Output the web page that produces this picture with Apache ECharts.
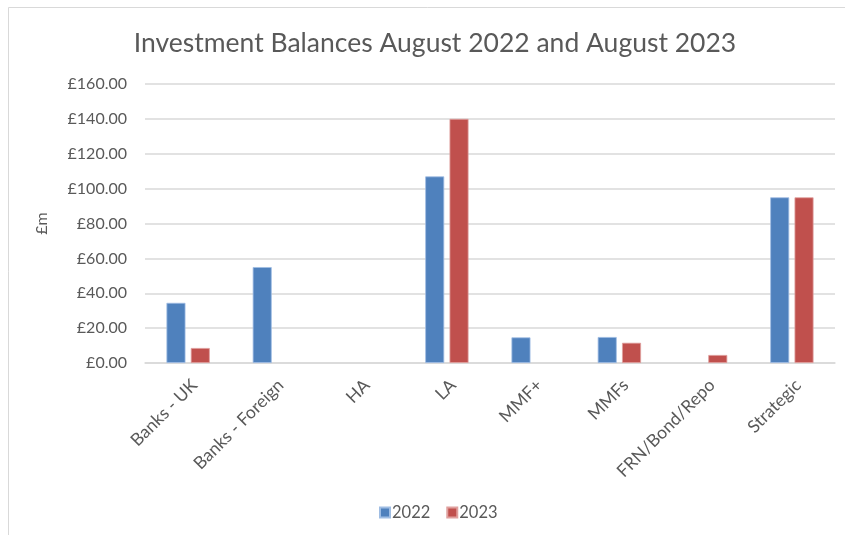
<!DOCTYPE html>
<html>
<head>
<meta charset="utf-8">
<script src="https://cdn.jsdelivr.net/npm/echarts@6/dist/echarts.min.js"></script>
<style>
  html, body { margin: 0; padding: 0; background: #fff; }
  #chart { width: 845px; height: 535px; }
</style>
</head>
<body>
<div id="chart"></div>
<script>
// Investment balances by counterparty type, £m (null = no balance held)
const categories = ['Banks - UK', 'Banks - Foreign', 'HA', 'LA', 'MMF+', 'MMFs', 'FRN/Bond/Repo', 'Strategic'];
const balances2022 = [34.5, 55, null, 107, 14.7, 14.9, null, 95];
const balances2023 = [8.6, null, null, 140, null, 11.6, 4.6, 95];
const seriesNames = ['2022', '2023'];
const yTicks = { min: 0, max: 160, interval: 20 };

const FONT = 'Lato, "Open Sans", sans-serif';
const TEXT = '#595959';

const chart = echarts.init(document.getElementById('chart'), null, { renderer: 'canvas' });

chart.setOption({
  backgroundColor: '#ffffff',
  animation: false,
  textStyle: { fontFamily: FONT },
  title: {
    text: 'Investment Balances August 2022 and August 2023',
    left: 430,
    textAlign: 'center',
    top: 25,
    textStyle: { fontFamily: FONT, fontSize: 26.5, fontWeight: 'normal', color: TEXT }
  },
  graphic: [{
    type: 'rect',
    shape: { x: 8.5, y: 7.5, width: 900, height: 600 },
    style: { fill: 'none', stroke: '#d9d9d9', lineWidth: 1 },
    silent: true
  }],
  legend: {
    data: seriesNames,
    top: 499,
    left: 374,
    itemWidth: 10,
    itemHeight: 10,
    itemGap: 16,
    icon: 'rect',
    textStyle: { fontFamily: FONT, fontSize: 16.5, color: TEXT, padding: [0, 0, 0, -3] }
  },
  grid: { left: 145, right: 10, top: 84, bottom: 172, containLabel: false },
  xAxis: {
    type: 'category',
    data: categories,
    axisLine: { lineStyle: { color: '#d9d9d9', width: 1.5 } },
    axisTick: { show: false },
    axisLabel: {
      rotate: 45,
      interval: 0,
      margin: 13,
      verticalAlign: 'top',
      fontFamily: FONT,
      fontSize: 17.5,
      color: TEXT
    }
  },
  yAxis: {
    type: 'value',
    min: yTicks.min,
    max: yTicks.max,
    interval: yTicks.interval,
    name: '£m',
    nameLocation: 'middle',
    nameGap: 95,
    nameRotate: 90,
    nameTextStyle: { fontFamily: FONT, fontSize: 16, color: TEXT },
    axisLine: { show: false },
    axisTick: { show: false },
    splitLine: { lineStyle: { color: '#d9d9d9', width: 1.5 } },
    axisLabel: {
      margin: 18,
      fontFamily: FONT,
      fontSize: 16,
      color: TEXT,
      formatter: v => '£' + v.toFixed(2)
    }
  },
  series: [
    {
      name: seriesNames[0],
      type: 'bar',
      data: balances2022,
      barWidth: 19,
      barGap: '28%',
      itemStyle: { color: '#4f81bd', borderColor: '#9fbde3', borderWidth: 0.8 }
    },
    {
      name: seriesNames[1],
      type: 'bar',
      data: balances2023,
      barWidth: 19,
      itemStyle: { color: '#c0504d', borderColor: '#e0a09e', borderWidth: 0.8 }
    }
  ]
});
</script>
</body>
</html>
